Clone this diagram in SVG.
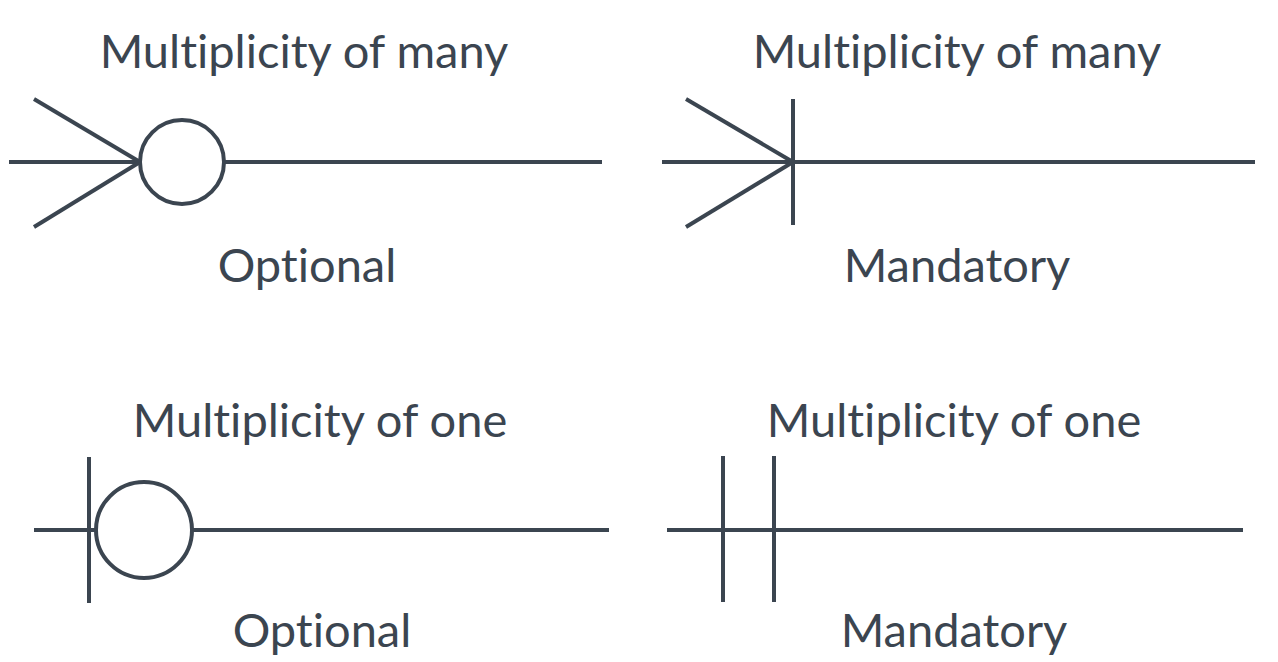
<svg xmlns="http://www.w3.org/2000/svg" width="1278" height="662" viewBox="0 0 1278 662">
<style>
.l{stroke:#3b4550;stroke-width:4;fill:none}
.t{font-family:Lato,"Noto Sans",sans-serif;font-size:47px;fill:#3b4550;text-anchor:middle;font-variant-ligatures:none;font-feature-settings:"liga" 0}
</style>
<rect width="1278" height="662" fill="#fff"/>
<g id="connectors">
<g id="many-optional">
<line class="l" x1="9" y1="162" x2="140" y2="162"/>
<line class="l" x1="34" y1="99" x2="140" y2="162"/>
<line class="l" x1="34" y1="227" x2="140" y2="162"/>
<circle class="l" cx="182" cy="162" r="42"/>
<line class="l" x1="224" y1="162" x2="602" y2="162"/>
</g>
<g id="many-mandatory">
<line class="l" x1="662" y1="162" x2="1255" y2="162"/>
<line class="l" x1="686" y1="99" x2="793" y2="162"/>
<line class="l" x1="686" y1="227" x2="793" y2="162"/>
<line class="l" x1="793" y1="99" x2="793" y2="225"/>
</g>
<g id="one-optional">
<line class="l" x1="34" y1="530" x2="96" y2="530"/>
<line class="l" x1="89" y1="457" x2="89" y2="603"/>
<circle class="l" cx="144" cy="530" r="48"/>
<line class="l" x1="192" y1="530" x2="609" y2="530"/>
</g>
<g id="one-mandatory">
<line class="l" x1="667" y1="530" x2="1243" y2="530"/>
<line class="l" x1="723" y1="456" x2="723" y2="602"/>
<line class="l" x1="774" y1="456" x2="774" y2="602"/>
</g>
</g>
<g id="labels">
<text class="t" x="304" y="68">Multiplicity of many</text>
<text class="t" x="957" y="68">Multiplicity of many</text>
<text class="t" x="307" y="282">Optional</text>
<text class="t" x="957" y="282">Mandatory</text>
<text class="t" x="320" y="437">Multiplicity of one</text>
<text class="t" x="954" y="437">Multiplicity of one</text>
<text class="t" x="322" y="647">Optional</text>
<text class="t" x="954" y="647">Mandatory</text>
</g>
</svg>
